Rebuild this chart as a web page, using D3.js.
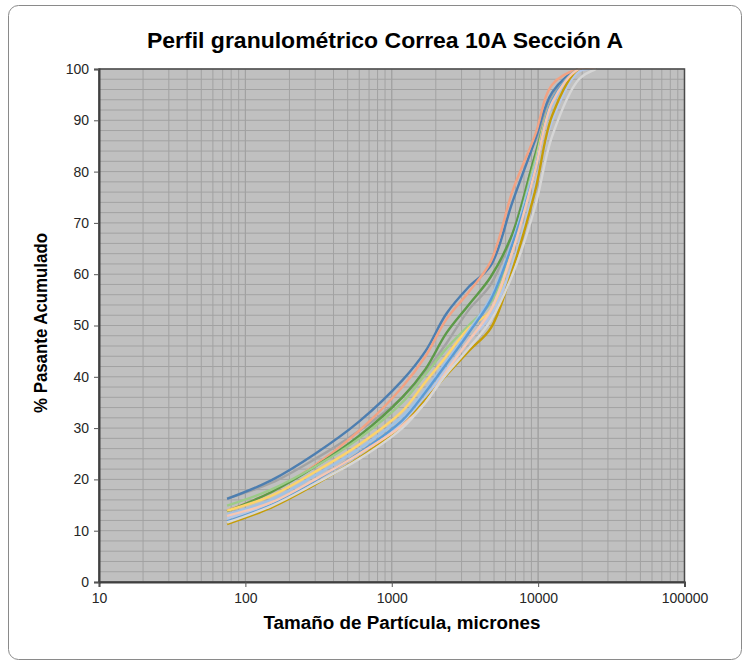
<!DOCTYPE html>
<html>
<head>
<meta charset="utf-8">
<script src="https://cdn.jsdelivr.net/npm/d3@7"></script>
<style>
  body { margin: 0; background: #fff; }
  svg { display: block; font-family: "Liberation Sans", Arial, sans-serif; }
</style>
</head>
<body>
<svg id="chart"></svg>
<script>
// tamaños de tamiz (micrones)
const sizes = [75, 150, 300, 600, 1180, 1700, 2360, 3350, 4750, 6700, 9500, 12500, 19000, 25000];

// % pasante acumulado por muestra
const serieAzulOsc = [16.2, 19.8, 25.0, 31.3, 39.3, 45.0, 52.3, 57.5, 61.7, 74.2, 86.0, 95.5, 100, 100];
const serieGris    = [16.3, 19.3, 24.0, 29.5, 36.0, 41.0, 46.5, 53.0, 58.0, 68.0, 83.0, 95.0, 100, 100];
const serieSalmon  = [13.9, 17.5, 22.8, 29.5, 38.0, 44.0, 51.2, 56.5, 62.5, 76.3, 87.0, 97.0, 100, 100];
const serieVerdeOsc = [13.8, 17.5, 22.5, 28.5, 36.0, 41.5, 48.5, 54.0, 59.5, 68.0, 83.0, 93.5, 100, 100];
const serieVerdeCl = [14.9, 18.0, 22.5, 28.0, 35.0, 40.5, 45.5, 50.0, 54.5, 66.0, 82.0, 94.0, 100, 100];
const serieAmarillo = [13.9, 16.8, 21.5, 26.8, 33.3, 39.0, 44.0, 49.5, 53.0, 65.0, 81.0, 94.0, 100, 100];
const serieCeleste = [13.2, 16.0, 20.8, 26.0, 32.3, 37.5, 43.0, 49.0, 55.5, 66.5, 81.0, 93.0, 100, 100];
const serieAzulGris = [12.4, 15.3, 20.0, 25.0, 31.0, 36.0, 41.5, 47.0, 52.0, 62.0, 77.0, 90.0, 99.5, 100];
const serieMelocoton = [12.9, 15.5, 20.0, 25.0, 30.5, 35.0, 41.0, 47.0, 53.0, 64.5, 80.0, 93.5, 100, 100];
const serieAzul    = [11.8, 15.0, 19.8, 25.2, 31.5, 37.0, 42.5, 48.5, 55.0, 66.0, 80.0, 94.0, 100, 100];
const serieGrisCl  = [11.6, 14.8, 19.2, 24.0, 30.0, 35.0, 40.5, 45.5, 51.0, 60.0, 73.0, 87.0, 98.0, 100];
const serieOro     = [11.3, 14.5, 19.0, 24.2, 30.5, 35.5, 40.3, 45.0, 49.5, 61.0, 76.0, 91.0, 100, 100];

const series = [
  { v: serieGris, c: "#a3a3a3" },
  { v: serieAzulOsc, c: "#4d7eb0" },
  { v: serieSalmon, c: "#f2a283" },
  { v: serieVerdeOsc, c: "#5c9a48" },
  { v: serieVerdeCl, c: "#9ccb88" },
  { v: serieAmarillo, c: "#fdd36a" },
  { v: serieAzulGris, c: "#b4c7e7" },
  { v: serieCeleste, c: "#9fc2e6" },
  { v: serieAzul, c: "#5b9bd5" },
  { v: serieOro, c: "#c49c08" },
  { v: serieMelocoton, c: "#f6c6b2" },
  { v: serieGrisCl, c: "#d6d6d6" }
];

const xTicks = [10, 100, 1000, 10000, 100000];
const yTicks = [0, 10, 20, 30, 40, 50, 60, 70, 80, 90, 100];

const W = 748, H = 666;
const pLeft = 99, pRight = 684.5, pTop = 69, pBottom = 582;

const svg = d3.select("#chart").attr("width", W).attr("height", H);

// marco exterior
svg.append("rect")
  .attr("x", 8.5).attr("y", 5.5)
  .attr("width", 733).attr("height", 654)
  .attr("rx", 10)
  .attr("fill", "#fff")
  .attr("stroke", "#8a8a8a");

let x = d3.scaleLog().domain([10, 100000]).range([pLeft, pRight]);
let y = d3.scaleLinear().domain([0, 100]).range([pBottom, pTop]);

// area de grafico
svg.append("rect")
  .attr("x", pLeft).attr("y", pTop)
  .attr("width", pRight - pLeft).attr("height", pBottom - pTop)
  .attr("fill", "#c0c0c0");

// rejilla
let gridX = [];
for (let d = 10; d < 100000; d *= 10) {
  for (let k = 1; k <= 10; k++) gridX.push(d * k);
}
svg.append("g")
  .selectAll("line")
  .data(gridX)
  .enter()
  .append("line")
  .attr("x1", d => x(d)).attr("x2", d => x(d))
  .attr("y1", pTop).attr("y2", pBottom)
  .attr("stroke", "#a2a2a2")
  .attr("stroke-width", 1);

svg.append("g")
  .selectAll("line")
  .data(d3.range(0, 101, 2))
  .enter()
  .append("line")
  .attr("x1", pLeft).attr("x2", pRight)
  .attr("y1", d => y(d)).attr("y2", d => y(d))
  .attr("stroke", "#a2a2a2")
  .attr("stroke-width", 1);

// curvas
svg.append("clipPath").attr("id", "clip")
  .append("rect")
  .attr("x", pLeft).attr("y", pTop - 1)
  .attr("width", pRight - pLeft).attr("height", pBottom - pTop + 1);

let line = d3.line()
  .x((d, i) => x(sizes[i]))
  .y(d => y(d))
  .curve(d3.curveCatmullRom.alpha(0.5));

svg.append("g")
  .attr("clip-path", "url(#clip)")
  .selectAll("path")
  .data(series)
  .enter()
  .append("path")
  .attr("d", s => line(s.v))
  .attr("fill", "none")
  .attr("stroke", s => s.c)
  .attr("stroke-width", 2.4)
  .attr("stroke-linejoin", "round");

// borde del area
svg.append("rect")
  .attr("x", pLeft).attr("y", pTop)
  .attr("width", pRight - pLeft).attr("height", pBottom - pTop)
  .attr("fill", "none")
  .attr("stroke", "#4a4a4a")
  .attr("stroke-width", 1.5);

// ejes
let xAxis = d3.axisBottom(x).tickValues(xTicks).tickFormat(d3.format("d")).tickSizeOuter(0).tickSize(5).tickPadding(6);
svg.append("g")
  .attr("transform", "translate(0," + pBottom + ")")
  .call(xAxis)
  .call(g => g.select(".domain").attr("stroke", "#404040").attr("stroke-width", 2))
  .call(g => g.selectAll(".tick line").attr("stroke", "#555"))
  .call(g => g.selectAll("text").attr("font-size", 14).attr("fill", "#262626")
    .attr("font-family", "Liberation Sans, Arial, sans-serif"));

let yAxis = d3.axisLeft(y).tickValues(yTicks).tickSizeOuter(0).tickSize(5).tickPadding(5);
svg.append("g")
  .attr("transform", "translate(" + pLeft + ",0)")
  .call(yAxis)
  .call(g => g.select(".domain").attr("stroke", "#404040").attr("stroke-width", 2))
  .call(g => g.selectAll(".tick line").attr("stroke", "#555"))
  .call(g => g.selectAll("text").attr("font-size", 14).attr("fill", "#262626")
    .attr("font-family", "Liberation Sans, Arial, sans-serif"));

// titulos
svg.append("text")
  .text("Perfil granulométrico Correa 10A Sección A")
  .attr("x", 385).attr("y", 48)
  .attr("text-anchor", "middle")
  .attr("font-size", 22).attr("font-weight", "bold")
  .attr("fill", "#000")
  .attr("textLength", 476)
  .attr("lengthAdjust", "spacingAndGlyphs");

svg.append("text")
  .text("Tamaño de Partícula, micrones")
  .attr("x", 402).attr("y", 629)
  .attr("text-anchor", "middle")
  .attr("font-size", 18).attr("font-weight", "bold")
  .attr("fill", "#000")
  .attr("textLength", 277)
  .attr("lengthAdjust", "spacingAndGlyphs");

svg.append("text")
  .text("% Pasante Acumulado")
  .attr("transform", "translate(47,323) rotate(-90)")
  .attr("text-anchor", "middle")
  .attr("font-size", 18).attr("font-weight", "bold")
  .attr("fill", "#000")
  .attr("textLength", 180)
  .attr("lengthAdjust", "spacingAndGlyphs");
</script>
</body>
</html>
